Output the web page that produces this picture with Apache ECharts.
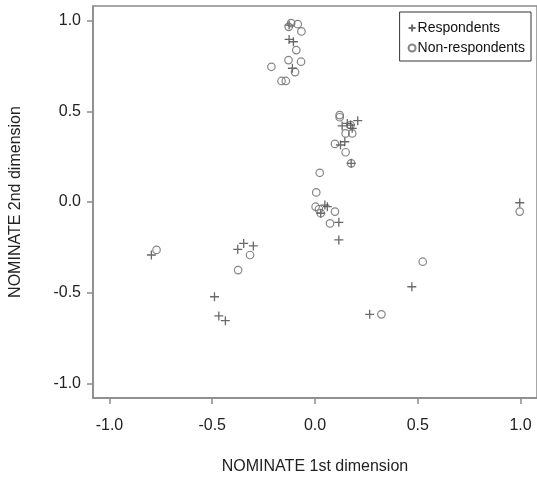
<!DOCTYPE html>
<html>
<head>
<meta charset="utf-8">
<script src="https://cdn.jsdelivr.net/npm/echarts@6/dist/echarts.min.js"></script>
<style>
  html, body { margin: 0; padding: 0; background: #fff; }
  #chart { width: 537px; height: 481px; }
</style>
</head>
<body>
<div id="chart"></div>
<script>
// NOMINATE coordinates
var respondents = [
  [-0.126, 0.975], [-0.126, 0.896], [-0.105, 0.883], [-0.110, 0.737],
  [0.208, 0.448], [0.157, 0.433], [0.173, 0.424], [0.132, 0.419],
  [0.181, 0.406], [0.145, 0.332], [0.124, 0.314], [0.176, 0.213],
  [0.048, -0.017], [0.060, -0.026], [0.028, -0.062], [0.116, -0.112],
  [0.116, -0.209], [-0.796, -0.292], [-0.376, -0.261], [-0.347, -0.228],
  [-0.300, -0.242], [-0.489, -0.522], [-0.468, -0.628], [-0.436, -0.654],
  [0.471, -0.467], [0.266, -0.619], [0.996, -0.004]
]
var nonRespondents = [
  [-0.116, 0.986], [-0.084, 0.980], [-0.128, 0.965], [-0.066, 0.940],
  [-0.091, 0.837], [-0.129, 0.782], [-0.068, 0.773], [-0.097, 0.716],
  [-0.212, 0.745], [-0.163, 0.667], [-0.142, 0.667], [0.120, 0.479],
  [0.120, 0.467], [0.173, 0.424], [0.149, 0.378], [0.181, 0.378],
  [0.097, 0.320], [0.149, 0.274], [0.176, 0.213], [0.023, 0.161],
  [0.006, 0.053], [0.003, -0.026], [0.019, -0.040], [0.028, -0.062],
  [0.097, -0.053], [0.073, -0.118], [-0.771, -0.264], [-0.316, -0.292],
  [-0.374, -0.375], [0.524, -0.329], [0.323, -0.619], [0.996, -0.053]
]
var ticks = [-1.0, -0.5, 0.0, 0.5, 1.0]

var plusIcon = 'path://M5,0L5,10M0,5L10,5'
var font = 'Liberation Sans, Arial, sans-serif'

function axis(name, gap) {
  return {
    type: 'value',
    min: -1.08,
    max: 1.08,
    name: name,
    nameLocation: 'middle',
    nameGap: gap,
    nameTextStyle: { color: '#222', fontSize: 16, fontFamily: font },
    axisLine: { show: true, onZero: false, lineStyle: { color: '#8a8a8a', width: 1.5 } },
    axisTick: {
      show: true,
      length: 6,
      lineStyle: { color: '#8a8a8a', width: 1.5 },
      customValues: ticks
    },
    axisLabel: {
      color: '#222',
      fontSize: 16,
      fontFamily: font,
      customValues: ticks,
      formatter: function (v) { return v.toFixed(1) }
    },
    splitLine: { show: false }
  }
}

var chart = echarts.init(document.getElementById('chart'))
var xAxis = axis('NOMINATE 1st dimension', 61)
xAxis.axisLabel.margin = 20
var yAxis = axis('NOMINATE 2nd dimension', 69)
yAxis.axisLabel.margin = 12

chart.setOption({
  animation: false,
  grid: {
    left: 93,
    top: 6,
    right: -1,
    bottom: 83,
    show: true,
    borderColor: '#8a8a8a',
    borderWidth: 1.5
  },
  legend: {
    orient: 'vertical',
    right: 6,
    top: 12,
    borderColor: '#333',
    borderWidth: 1,
    padding: [9, 6, 6, 8],
    itemWidth: 7,
    itemHeight: 7,
    itemGap: 6,
    textStyle: { color: '#111', fontSize: 14, fontFamily: font, padding: [0, 0, 0, -3] },
    data: [
      { name: 'Respondents', icon: plusIcon },
      { name: 'Non-respondents', icon: 'circle' }
    ]
  },
  xAxis: xAxis,
  yAxis: yAxis,
  series: [
    {
      name: 'Respondents',
      type: 'scatter',
      symbol: plusIcon,
      symbolSize: 9,
      itemStyle: { color: 'transparent', borderColor: '#444', borderWidth: 1.3 },
      data: respondents
    },
    {
      name: 'Non-respondents',
      type: 'scatter',
      symbol: 'circle',
      symbolSize: 7.5,
      itemStyle: { color: 'transparent', borderColor: '#666', borderWidth: 1.2 },
      data: nonRespondents
    }
  ]
})
</script>
</body>
</html>
